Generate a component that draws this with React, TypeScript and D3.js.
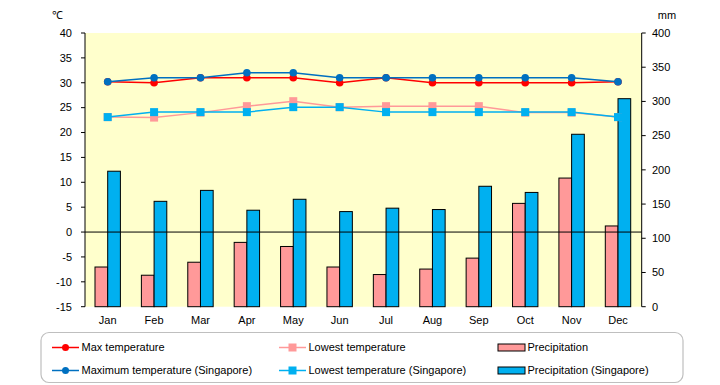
import React from 'react';
import * as d3 from 'd3';

const months = ['Jan', 'Feb', 'Mar', 'Apr', 'May', 'Jun', 'Jul', 'Aug', 'Sep', 'Oct', 'Nov', 'Dec'];
const maxTemp = [30.2, 30, 31, 31, 31, 30, 31, 30, 30, 30, 30, 30.2];
const lowTemp = [23.1, 23, 24, 25.3, 26.3, 25.1, 25.3, 25.3, 25.3, 24, 24, 23.1];
const maxTempSg = [30.2, 31, 31, 32, 32, 31, 31, 31, 31, 31, 31, 30.2];
const lowTempSg = [23.1, 24.1, 24.1, 24.1, 25.1, 25.1, 24.1, 24.1, 24.1, 24.1, 24.1, 23.1];
const precip = [58, 46, 65, 94, 88, 58, 47, 55, 71, 151, 188, 118];
const precipSg = [198, 154, 170, 141, 157, 139, 144, 142, 176, 167, 252, 304];
const tempTicks = [40, 35, 30, 25, 20, 15, 10, 5, 0, -5, -10, -15];
const mmTicks = [400, 350, 300, 250, 200, 150, 100, 50, 0];

const FONT = '"Liberation Sans", Arial, sans-serif';

const App: React.FC = () => {
  const W = 720, H = 385;
  const left = 85, right = 641.7, top = 33, bottom = 306.7;

  const x = d3.scaleBand<string>().domain(months).range([left, right]);
  const yT = d3.scaleLinear().domain([-15, 40]).range([bottom, top]);
  const yP = d3.scaleLinear().domain([0, 400]).range([bottom, top]);
  const cx = (m: string) => (x(m) ?? 0) + x.bandwidth() / 2 - 0.5;
  const bw = 12.7;

  const line = (vals: number[]) =>
    d3.line<number>().x((_, i) => cx(months[i])).y(v => yT(v))(vals) ?? '';

  const fmt = (v: number) => (v < 0 ? '-' + Math.abs(v) : String(v));

  const circles = (vals: number[], color: string) =>
    vals.map((v, i) => <circle key={i} cx={cx(months[i])} cy={yT(v)} r={3.8} fill={color} />);
  const squares = (vals: number[], color: string) =>
    vals.map((v, i) => (
      <rect key={i} x={cx(months[i]) - 4} y={yT(v) - 4} width={8} height={8} fill={color} />
    ));

  const legendRows = [
    { y: 347.5, items: [
      { x: 52, kind: 'circle', color: '#FF0000', label: 'Max temperature' },
      { x: 279, kind: 'square', color: '#FF9999', label: 'Lowest temperature' },
      { x: 498, kind: 'bar', color: '#FF9999', label: 'Precipitation' },
    ] },
    { y: 370.5, items: [
      { x: 52, kind: 'circle', color: '#0070C0', label: 'Maximum temperature (Singapore)' },
      { x: 279, kind: 'square', color: '#00B0F0', label: 'Lowest temperature (Singapore)' },
      { x: 498, kind: 'bar', color: '#00B0F0', label: 'Precipitation (Singapore)' },
    ] },
  ];

  return (
    <svg width={W} height={H} style={{ position: 'absolute', left: 0, top: 0, background: '#fff' }}
      fontFamily={FONT} fontSize={11}>
      <rect x={left} y={top} width={right - left} height={bottom - top} fill="#FFFFCC" />

      {/* bars */}
      {months.map((m, i) => (
        <g key={m} stroke="#000" strokeWidth={1}>
          <rect x={cx(m) - bw} y={yP(precip[i])} width={bw} height={bottom - yP(precip[i])} fill="#FF9999" />
          <rect x={cx(m)} y={yP(precipSg[i])} width={bw} height={bottom - yP(precipSg[i])} fill="#00B0F0" />
        </g>
      ))}

      {/* zero line */}
      <line x1={left} x2={right} y1={yT(0)} y2={yT(0)} stroke="#000" strokeWidth={1} />

      {/* lines */}
      <path d={line(maxTemp)} fill="none" stroke="#FF0000" strokeWidth={1.5} />
      {circles(maxTemp, '#FF0000')}
      <path d={line(lowTemp)} fill="none" stroke="#FF9999" strokeWidth={1.5} />
      {squares(lowTemp, '#FF9999')}
      <path d={line(maxTempSg)} fill="none" stroke="#0070C0" strokeWidth={1.5} />
      {circles(maxTempSg, '#0070C0')}
      <path d={line(lowTempSg)} fill="none" stroke="#00B0F0" strokeWidth={1.5} />
      {squares(lowTempSg, '#00B0F0')}

      {/* left axis */}
      <line x1={left} x2={left} y1={top} y2={bottom} stroke="#000" />
      {tempTicks.map(t => (
        <g key={t}>
          <line x1={left - 4} x2={left} y1={yT(t)} y2={yT(t)} stroke="#000" />
          <text x={72} y={yT(t)} dy="0.35em" textAnchor="end">{fmt(t)}</text>
        </g>
      ))}
      <text x={57} y={15} dy="0.35em" textAnchor="middle">℃</text>

      {/* right axis */}
      <line x1={right} x2={right} y1={top} y2={bottom} stroke="#000" />
      {mmTicks.map(t => (
        <g key={t}>
          <line x1={right} x2={right + 4} y1={yP(t)} y2={yP(t)} stroke="#000" />
          <text x={652} y={yP(t)} dy="0.35em" textAnchor="start">{t}</text>
        </g>
      ))}
      <text x={667} y={15} dy="0.35em" textAnchor="middle">mm</text>

      {/* month labels */}
      {months.map(m => (
        <text key={m} x={cx(m)} y={320} dy="0.35em" textAnchor="middle">{m}</text>
      ))}

      {/* legend */}
      <rect x={41} y={332.5} width={642} height={50} rx={8} fill="#fff" stroke="#BFBFBF" strokeWidth={1.2} />
      {legendRows.map((row, ri) => (
        <g key={ri}>
          {row.items.map(it => (
            <g key={it.label}>
              {it.kind === 'bar' ? (
                <rect x={it.x} y={row.y - 3.5} width={27} height={7} fill={it.color} stroke="#000" strokeWidth={1} />
              ) : (
                <>
                  <line x1={it.x} x2={it.x + 27} y1={row.y} y2={row.y} stroke={it.color} strokeWidth={1.5} />
                  {it.kind === 'circle' ? (
                    <circle cx={it.x + 13.5} cy={row.y} r={3.5} fill={it.color} />
                  ) : (
                    <rect x={it.x + 9.5} y={row.y - 4} width={8} height={8} fill={it.color} />
                  )}
                </>
              )}
              <text x={it.x + 29.5} y={row.y} dy="0.35em">{it.label}</text>
            </g>
          ))}
        </g>
      ))}
    </svg>
  );
};

export default App;
